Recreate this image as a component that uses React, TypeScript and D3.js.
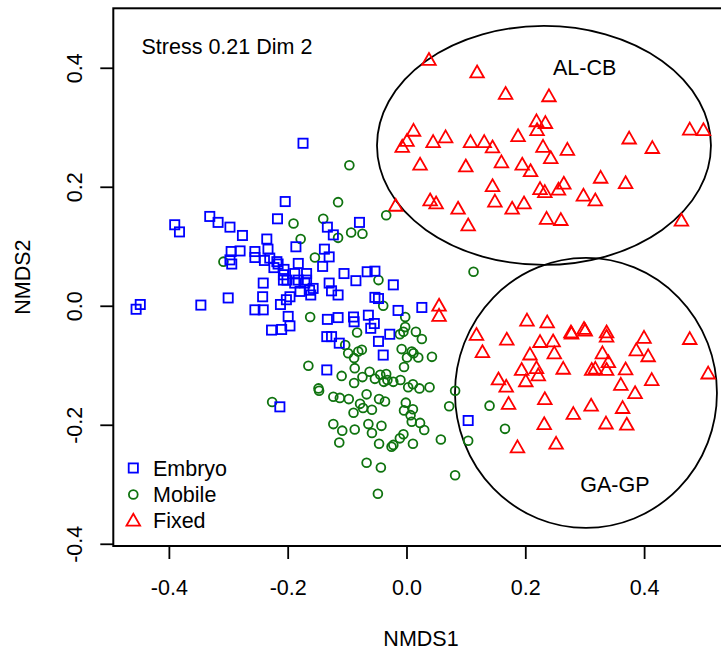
import React from 'react';
import * as d3 from 'd3';

// NMDS scores (NMDS1, NMDS2)
const embryo: [number, number][] = [
  [-0.175, 0.274], [-0.205, 0.176], [-0.391, 0.137], [-0.383, 0.125], [-0.332, 0.151],
  [-0.318, 0.141], [-0.298, 0.133], [-0.277, 0.119], [-0.218, 0.147], [-0.187, 0.100],
  [-0.236, 0.113], [-0.234, 0.096], [-0.281, 0.093], [-0.296, 0.092], [-0.298, 0.078],
  [-0.295, 0.071], [-0.256, 0.092], [-0.256, 0.082], [-0.240, 0.077], [-0.231, 0.081],
  [-0.224, 0.065], [-0.219, 0.075], [-0.217, 0.071], [-0.207, 0.062], [-0.208, 0.053],
  [-0.208, 0.044], [-0.202, 0.044], [-0.189, 0.055], [-0.183, 0.072], [-0.183, 0.044],
  [-0.189, 0.039], [-0.169, 0.055], [-0.169, 0.044], [-0.172, 0.039], [-0.164, 0.027],
  [-0.158, 0.030], [-0.162, 0.019], [-0.180, 0.025], [-0.197, 0.016], [-0.203, 0.011],
  [-0.213, 0.003], [-0.242, 0.039], [-0.243, 0.016], [-0.256, -0.006], [-0.242, -0.006],
  [-0.200, -0.017], [-0.197, -0.033], [-0.211, -0.039], [-0.228, -0.040], [-0.139, 0.096],
  [-0.131, 0.083], [-0.142, 0.067], [-0.131, 0.039], [-0.127, 0.026], [-0.116, 0.019],
  [-0.106, 0.055], [-0.086, 0.043], [-0.134, -0.022], [-0.116, -0.019], [-0.135, -0.051],
  [-0.127, -0.051], [-0.114, -0.062], [-0.134, 0.133], [-0.124, 0.120], [-0.080, 0.141],
  [-0.067, 0.058], [-0.054, 0.059], [-0.023, 0.036], [-0.054, 0.015], [-0.048, 0.013],
  [-0.015, -0.007], [0.025, -0.002], [-0.090, -0.018], [-0.065, -0.015], [-0.089, -0.026],
  [-0.055, -0.029], [-0.061, -0.037], [-0.029, -0.047], [-0.048, -0.059], [-0.040, -0.082],
  [-0.135, -0.107], [-0.214, -0.169], [0.103, -0.192], [-0.449, 0.003], [-0.456, -0.005],
  [-0.347, 0.002], [-0.301, 0.014],
];

const mobile: [number, number][] = [
  [-0.191, 0.139], [-0.179, 0.113], [-0.309, 0.075], [-0.097, 0.237], [-0.116, 0.175],
  [-0.035, 0.153], [-0.141, 0.147], [-0.116, 0.115], [-0.094, 0.124], [-0.075, 0.122],
  [-0.155, 0.082], [0.112, 0.058], [-0.048, 0.044], [-0.040, 0.001], [-0.003, -0.018],
  [-0.163, -0.018], [-0.084, -0.044], [-0.104, -0.065], [-0.099, -0.079], [-0.082, -0.076],
  [-0.076, -0.073], [-0.089, -0.087], [-0.088, -0.104], [-0.166, -0.100], [-0.110, -0.117],
  [-0.089, -0.129], [-0.075, -0.119], [-0.063, -0.110], [-0.054, -0.122], [-0.045, -0.115],
  [-0.035, -0.114], [-0.039, -0.127], [-0.033, -0.124], [-0.023, -0.127], [-0.011, -0.124],
  [-0.006, -0.043], [-0.003, -0.035], [-0.012, -0.047], [0.015, -0.043], [0.025, -0.055],
  [-0.009, -0.072], [0.008, -0.076], [0.011, -0.079], [0.000, -0.086], [0.019, -0.086],
  [0.042, -0.085], [-0.005, -0.102], [0.002, -0.136], [0.010, -0.131], [0.021, -0.138],
  [0.038, -0.136], [0.081, -0.142], [0.071, -0.168], [-0.149, -0.138], [-0.148, -0.142],
  [-0.124, -0.152], [-0.113, -0.154], [-0.098, -0.156], [-0.068, -0.148], [-0.079, -0.164],
  [-0.074, -0.171], [-0.059, -0.174], [-0.090, -0.179], [-0.047, -0.156], [-0.037, -0.160],
  [-0.002, -0.162], [-0.005, -0.175], [0.010, -0.173], [0.006, -0.183], [0.008, -0.194],
  [0.022, -0.196], [0.029, -0.208], [-0.124, -0.198], [-0.109, -0.209], [-0.088, -0.207],
  [-0.065, -0.198], [-0.059, -0.213], [-0.043, -0.201], [-0.114, -0.229], [-0.047, -0.231],
  [-0.026, -0.236], [-0.023, -0.233], [-0.012, -0.222], [-0.006, -0.215], [0.010, -0.231],
  [0.057, -0.224], [0.103, -0.226], [0.081, -0.284], [-0.068, -0.263], [-0.044, -0.271],
  [-0.049, -0.315], [0.139, -0.167], [0.165, -0.206], [-0.227, -0.161],
];

const fixed: [number, number][] = [
  [0.037, 0.415], [0.118, 0.394], [0.166, 0.358], [0.239, 0.354], [0.218, 0.312],
  [0.233, 0.309], [0.219, 0.297], [0.011, 0.296], [0.000, 0.279], [-0.008, 0.269],
  [0.044, 0.277], [0.065, 0.285], [0.107, 0.277], [0.130, 0.277], [0.144, 0.268],
  [0.187, 0.287], [0.229, 0.269], [0.242, 0.250], [0.270, 0.264], [0.374, 0.283],
  [0.413, 0.267], [0.476, 0.298], [0.499, 0.297], [0.022, 0.239], [0.099, 0.236],
  [0.159, 0.243], [0.194, 0.239], [0.208, 0.228], [0.144, 0.203], [0.224, 0.198],
  [0.232, 0.193], [0.255, 0.197], [0.264, 0.207], [0.326, 0.217], [0.368, 0.208],
  [0.297, 0.187], [0.317, 0.179], [-0.019, 0.170], [0.039, 0.179], [0.049, 0.174],
  [0.086, 0.165], [0.148, 0.177], [0.177, 0.165], [0.197, 0.174], [0.235, 0.148],
  [0.259, 0.146], [0.103, 0.137], [0.462, 0.145], [0.054, 0.002], [0.054, -0.015],
  [0.202, -0.023], [0.236, -0.026], [0.117, -0.047], [0.168, -0.055], [0.127, -0.076],
  [0.224, -0.059], [0.246, -0.058], [0.207, -0.080], [0.248, -0.078], [0.276, -0.043],
  [0.277, -0.045], [0.298, -0.037], [0.300, -0.040], [0.336, -0.043], [0.336, -0.050],
  [0.399, -0.052], [0.386, -0.073], [0.406, -0.083], [0.329, -0.078], [0.339, -0.093],
  [0.311, -0.106], [0.317, -0.104], [0.336, -0.106], [0.368, -0.105], [0.476, -0.054],
  [0.507, -0.112], [0.193, -0.106], [0.218, -0.103], [0.221, -0.115], [0.200, -0.125],
  [0.263, -0.104], [0.154, -0.122], [0.167, -0.134], [0.171, -0.163], [0.232, -0.155],
  [0.360, -0.131], [0.412, -0.123], [0.384, -0.145], [0.310, -0.166], [0.363, -0.170],
  [0.280, -0.180], [0.231, -0.197], [0.335, -0.196], [0.370, -0.198], [0.186, -0.236],
  [0.251, -0.230],
];

const xTicks = [-0.4, -0.2, 0.0, 0.2, 0.4];
const yTicks = [-0.4, -0.2, 0.0, 0.2, 0.4];

// group ellipses: centre and radii in NMDS units
const ellipseNames = ['AL-CB', 'GA-GP'];
const ellipseCentres: [number, number][] = [[0.2306, 0.2703], [0.3013, -0.1457]];
const ellipseRadii: [number, number][] = [[0.2811, 0.2008], [0.2205, 0.2269]];
const ellipseLabelPos: [number, number][] = [[0.299, 0.4], [0.35, -0.3]];

const legendLabels = ['Embryo', 'Mobile', 'Fixed'];
const stressText = 'Stress 0.21 Dim 2';

const BLUE = '#0000FF';
const GREEN = '#0f730f';
const RED = '#FF0000';
const FONT = '"Liberation Sans", Arial, Helvetica, sans-serif';
const FS = 21.5;

const x = d3.scaleLinear().domain([-0.4944, 0.5303]).range([113.3, 722]);
const y = d3.scaleLinear().domain([-0.4029, 0.5008]).range([546, 8.3]);
const fmt = d3.formatLocale({ decimal: '.', thousands: ',', grouping: [3], currency: ['', ''], minus: '-' }).format('.1f');

const triPath = 'M0,-6.3L6.8,5.6L-6.8,5.6Z';

function Square({ cx, cy }: { cx: number; cy: number }) {
  return <rect x={cx - 4.6} y={cy - 4.6} width={9.2} height={9.2} fill="none" stroke={BLUE} strokeWidth={1.8} />;
}
function Circle({ cx, cy }: { cx: number; cy: number }) {
  return <circle cx={cx} cy={cy} r={4.4} fill="none" stroke={GREEN} strokeWidth={1.8} />;
}
function Tri({ cx, cy }: { cx: number; cy: number }) {
  return <path d={triPath} transform={`translate(${cx},${cy})`} fill="none" stroke={RED} strokeWidth={1.8} strokeLinejoin="miter" />;
}

export default function App() {
  const left = x.range()[0];
  const top = y.range()[1];
  const bottom = y.range()[0];
  const legendRows = [468, 494.5, 520];
  return (
    <svg width={721} height={653} style={{ position: 'absolute', left: 0, top: 0, display: 'block', background: '#fff' }}
      fontFamily={FONT}>
      <rect x={0} y={0} width={721} height={653} fill="#fff" />
      {/* ellipses */}
      {ellipseCentres.map((c, i) => (
        <ellipse key={'e' + i} cx={x(c[0])} cy={y(c[1])}
          rx={x(c[0] + ellipseRadii[i][0]) - x(c[0])}
          ry={y(c[1]) - y(c[1] + ellipseRadii[i][1])}
          fill="none" stroke="#000" strokeWidth={1.8} />
      ))}
      {ellipseNames.map((n, i) => (
        <text key={'en' + i} x={x(ellipseLabelPos[i][0])} y={y(ellipseLabelPos[i][1])} fontSize={FS}
          textAnchor="middle" dominantBaseline="central" fill="#000">{n}</text>
      ))}
      {/* points */}
      {fixed.map((d, i) => <Tri key={'f' + i} cx={x(d[0])} cy={y(d[1])} />)}
      {mobile.map((d, i) => <Circle key={'m' + i} cx={x(d[0])} cy={y(d[1])} />)}
      {embryo.map((d, i) => <Square key={'b' + i} cx={x(d[0])} cy={y(d[1])} />)}
      {/* box */}
      <rect x={left} y={top} width={640} height={bottom - top} fill="none" stroke="#000" strokeWidth={2} />
      {/* x axis */}
      {xTicks.map((t) => (
        <g key={'xt' + t}>
          <line x1={x(t)} x2={x(t)} y1={bottom} y2={bottom + 13} stroke="#000" strokeWidth={1.8} />
          <text x={x(t)} y={595} fontSize={FS} textAnchor="middle" fill="#000">{fmt(t)}</text>
        </g>
      ))}
      {/* y axis */}
      {yTicks.map((t) => (
        <g key={'yt' + t}>
          <line x1={left - 13} x2={left} y1={y(t)} y2={y(t)} stroke="#000" strokeWidth={1.8} />
          <text transform={`translate(81.5,${y(t)}) rotate(-90)`} fontSize={FS} textAnchor="middle" fill="#000">{fmt(t)}</text>
        </g>
      ))}
      <text x={421} y={646} fontSize={FS} textAnchor="middle" fill="#000">NMDS1</text>
      <text transform={`translate(30,${(top + bottom) / 2}) rotate(-90)`} fontSize={FS} textAnchor="middle" fill="#000">NMDS2</text>
      <text x={141.5} y={53.5} fontSize={FS} fill="#000">{stressText}</text>
      {/* legend */}
      <Square cx={133.3} cy={legendRows[0]} />
      <Circle cx={133.3} cy={legendRows[1]} />
      <Tri cx={133.3} cy={legendRows[2]} />
      {legendLabels.map((l, i) => (
        <text key={'l' + i} x={153} y={legendRows[i] + 7.5} fontSize={FS} fill="#000">{l}</text>
      ))}
    </svg>
  );
}
